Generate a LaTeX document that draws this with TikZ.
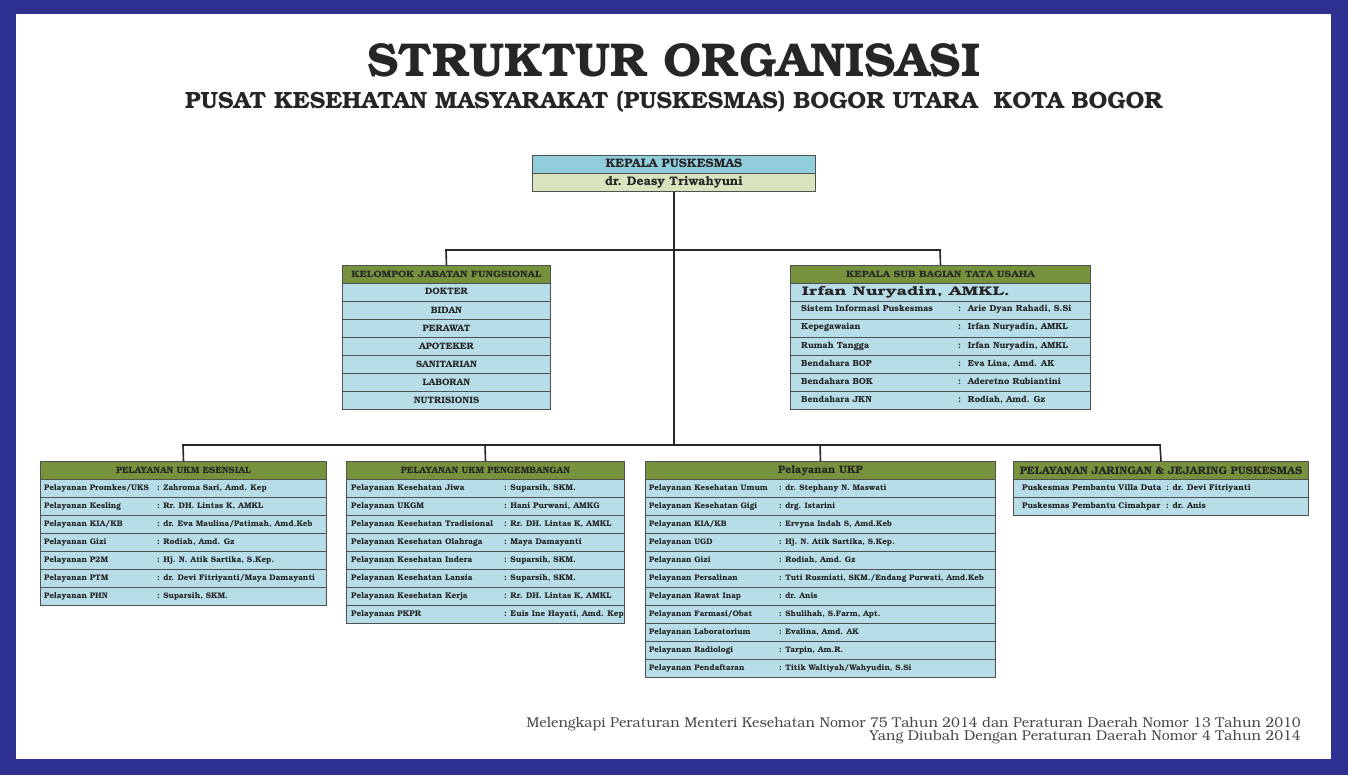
\documentclass[tikz,border=0pt]{standalone}
\usepackage[T1]{fontenc}
\renewcommand{\rmdefault}{pbk}
\usepackage{graphicx}
\definecolor{frameblue}{HTML}{2E3192}
\definecolor{hdrgreen}{HTML}{76923C}
\definecolor{rowblue}{HTML}{B7DEE8}
\definecolor{kpblue}{HTML}{92CDDC}
\definecolor{kpgreen}{HTML}{D7E4BD}
\definecolor{edgegray}{HTML}{505050}
\definecolor{txt}{HTML}{262626}
\newcommand{\rowfs}{\fontsize{8}{9}\selectfont}
\tikzset{
  rowbox/.style={draw=edgegray, line width=1pt, fill=rowblue, minimum height=18pt, inner sep=0pt, anchor=north west},
  hdrbox/.style={draw=edgegray, line width=1pt, fill=hdrgreen, minimum height=18pt, inner sep=0pt, anchor=north west, text=txt, font=\bfseries\fontsize{9.2}{10}\selectfont},
  lbl/.style={inner sep=0pt, text height=5.5pt, text depth=1.5pt, text=txt, font=\bfseries\rowfs},
  ctr/.style={inner sep=0pt, text height=6.5pt, text depth=1.5pt, text=txt, font=\bfseries\fontsize{9.3}{10}\selectfont},
  conn/.style={draw=txt, line width=1.6pt},
}
% #1 name, #2 left x, #3 top y, #4 width, #5 label x, #6 colon x, #7 label, #8 value
\newcommand{\orow}[8]{%
  \node[rowbox, minimum width=#4pt] (#1) at (#2,#3) {};
  \node[lbl, anchor=west] (#1l) at (#5,#3+9) {#7};
  \node[lbl, anchor=west] (#1v) at (#6,#3+9) {: #8};
}
\newcommand{\crow}[5]{% name, left, top, width, text
  \node[rowbox, minimum width=#4pt] (#1) at (#2,#3) {};
  \node[ctr] (#1t) at (#1.center) {#5};
}
\begin{document}
\begin{tikzpicture}[x=1pt,y=-1pt]
\fill[frameblue] (0,0) rectangle (1348,775);
\fill[white] (16,14) rectangle (1331,759);
\useasboundingbox (0,0) rectangle (1348,775);

% titles
\node[text=txt, font=\bfseries\fontsize{47.5}{50}\selectfont, inner sep=0pt] (title) at (674,60) {STRUKTUR ORGANISASI};
\node[text=txt, font=\bfseries\fontsize{23.5}{26}\selectfont, inner sep=0pt] (subtitle) at (674,102) {PUSAT KESEHATAN MASYARAKAT (PUSKESMAS) BOGOR UTARA\ \ KOTA BOGOR};

% Kepala
\node[rowbox, fill=kpblue, minimum width=283pt] (kp) at (532,155) {};
\node[ctr, font=\bfseries\fontsize{12.3}{13}\selectfont, text height=8pt] (kpt) at (kp.center) {KEPALA PUSKESMAS};
\node[rowbox, fill=kpgreen, minimum width=283pt] (kpn) at (532,173.5) {};
\node[ctr, font=\bfseries\fontsize{12.4}{13}\selectfont, text height=8pt, text depth=2pt] (kpnt) at (kpn.center) {dr. Deasy Triwahyuni};

% junction coordinates
\coordinate (j1) at (674,250);
\coordinate (j2) at (674,445);
\coordinate (jL) at (446,250);
\coordinate (jR) at (940,250);
\coordinate (b1) at (183,445);
\coordinate (b2) at (485,445);
\coordinate (b3) at (820,445);
\coordinate (b4) at (1160,445);

% Kelompok jabatan fungsional
\node[hdrbox, minimum width=208pt, font=\bfseries\fontsize{9.2}{11}\selectfont] (kjf) at (342,265) {\scalebox{1.11}[1]{KELOMPOK JABATAN FUNGSIONAL}};
\crow{f1}{342}{283}{208}{DOKTER}
\crow{f2}{342}{301}{208}{BIDAN}
\crow{f3}{342}{319}{208}{PERAWAT}
\crow{f4}{342}{337}{208}{APOTEKER}
\crow{f5}{342}{355}{208}{SANITARIAN}
\crow{f6}{342}{373}{208}{LABORAN}
\crow{f7}{342}{391}{208}{NUTRISIONIS}

% Tata usaha
\node[hdrbox, minimum width=300pt, font=\bfseries\fontsize{9.2}{11}\selectfont] (tu) at (790,265) {\scalebox{1.13}[1]{KEPALA SUB BAGIAN TATA USAHA}};
\node[rowbox, minimum width=300pt] (tun) at (790,283) {};
\node[ctr, font=\bfseries\fontsize{12.5}{13}\selectfont, text height=8.5pt, text depth=2.5pt] (tunt) at (906,292.5) {\scalebox{1.42}[1]{Irfan Nuryadin, AMKL.}};
\renewcommand{\rowfs}{\fontsize{8.8}{10}\selectfont}
\orow{t1}{790}{301}{300}{801}{958}{Sistem Informasi Puskesmas}{\ Arie Dyan Rahadi, S.Si}
\orow{t2}{790}{319}{300}{801}{958}{Kepegawaian}{\ Irfan Nuryadin, AMKL}
\orow{t3}{790}{337}{300}{801}{958}{Rumah Tangga}{\ Irfan Nuryadin, AMKL}
\orow{t4}{790}{355}{300}{801}{958}{Bendahara BOP}{\ Eva Lina, Amd. AK}
\orow{t5}{790}{373}{300}{801}{958}{Bendahara BOK}{\ Aderetno Rubiantini}
\orow{t6}{790}{391}{300}{801}{958}{Bendahara JKN}{\ Rodiah, Amd. Gz}

% UKM Esensial
\renewcommand{\rowfs}{\fontsize{8.1}{9}\selectfont}
\node[hdrbox, minimum width=286pt] (es) at (40,461) {PELAYANAN UKM ESENSIAL};
\orow{e1}{40}{479}{286}{44}{157}{Pelayanan Promkes/UKS}{Zahroma Sari, Amd. Kep}
\orow{e2}{40}{497}{286}{44}{157}{Pelayanan Kesling}{Rr. DH. Lintas K, AMKL}
\orow{e3}{40}{515}{286}{44}{157}{Pelayanan KIA/KB}{dr. Eva Maulina/Patimah, Amd.Keb}
\orow{e4}{40}{533}{286}{44}{157}{Pelayanan Gizi}{Rodiah, Amd. Gz}
\orow{e5}{40}{551}{286}{44}{157}{Pelayanan P2M}{Hj. N. Atik Sartika, S.Kep.}
\orow{e6}{40}{569}{286}{44}{157}{Pelayanan PTM}{dr. Devi Fitriyanti/Maya Damayanti}
\orow{e7}{40}{587}{286}{44}{157}{Pelayanan PHN}{Suparsih, SKM.}

% UKM Pengembangan
\renewcommand{\rowfs}{\fontsize{8.2}{9}\selectfont}
\node[hdrbox, minimum width=278pt] (pg) at (346,461) {PELAYANAN UKM PENGEMBANGAN};
\orow{p1}{346}{479}{278}{351}{504}{Pelayanan Kesehatan Jiwa}{Suparsih, SKM.}
\orow{p2}{346}{497}{278}{351}{504}{Pelayanan UKGM}{Hani Purwani, AMKG}
\orow{p3}{346}{515}{278}{351}{504}{Pelayanan Kesehatan Tradisional}{Rr. DH. Lintas K, AMKL}
\orow{p4}{346}{533}{278}{351}{504}{Pelayanan Kesehatan Olahraga}{Maya Damayanti}
\orow{p5}{346}{551}{278}{351}{504}{Pelayanan Kesehatan Indera}{Suparsih, SKM.}
\orow{p6}{346}{569}{278}{351}{504}{Pelayanan Kesehatan Lansia}{Suparsih, SKM.}
\orow{p7}{346}{587}{278}{351}{504}{Pelayanan Kesehatan Kerja}{Rr. DH. Lintas K, AMKL}
\orow{p8}{346}{605}{278}{351}{504}{Pelayanan PKPR}{Euis Ine Hayati, Amd. Kep}

% UKP
\renewcommand{\rowfs}{\fontsize{8}{9}\selectfont}
\node[hdrbox, minimum width=350pt, font=\bfseries\fontsize{10.8}{11}\selectfont] (up) at (645,461) {Pelayanan UKP};
\orow{u1}{645}{479}{350}{649}{779}{Pelayanan Kesehatan Umum}{dr. Stephany N. Maswati}
\orow{u2}{645}{497}{350}{649}{779}{Pelayanan Kesehatan Gigi}{drg. Istarini}
\orow{u3}{645}{515}{350}{649}{779}{Pelayanan KIA/KB}{Ervyna Indah S, Amd.Keb}
\orow{u4}{645}{533}{350}{649}{779}{Pelayanan UGD}{Hj. N. Atik Sartika, S.Kep.}
\orow{u5}{645}{551}{350}{649}{779}{Pelayanan Gizi}{Rodiah, Amd. Gz}
\orow{u6}{645}{569}{350}{649}{779}{Pelayanan Persalinan}{Tuti Rusmiati, SKM./Endang Purwati, Amd.Keb}
\orow{u7}{645}{587}{350}{649}{779}{Pelayanan Rawat Inap}{dr. Anis}
\orow{u8}{645}{605}{350}{649}{779}{Pelayanan Farmasi/Obat}{Shulihah, S.Farm, Apt.}
\orow{u9}{645}{623}{350}{649}{779}{Pelayanan Laboratorium}{Evalina, Amd. AK}
\orow{u10}{645}{641}{350}{649}{779}{Pelayanan Radiologi}{Tarpin, Am.R.}
\orow{u11}{645}{659}{350}{649}{779}{Pelayanan Pendaftaran}{Titik Waltiyah/Wahyudin, S.Si}

% Jaringan
\renewcommand{\rowfs}{\fontsize{8.3}{9}\selectfont}
\node[hdrbox, minimum width=295pt, font=\bfseries\fontsize{10.9}{11}\selectfont] (jr) at (1013,461) {PELAYANAN JARINGAN \& JEJARING PUSKESMAS};
\orow{r1}{1013}{479}{295}{1022}{1166}{Puskesmas Pembantu Villa Duta}{dr. Devi Fitriyanti}
\orow{r2}{1013}{497}{295}{1022}{1166}{Puskesmas Pembantu Cimahpar}{dr. Anis}

% connectors
\draw[conn] (kpn.south) -- (j1) -- (j2);
\draw[conn] (kjf.north) -- (jL) -- (jR) -- (tu.north);
\draw[conn] (es.north) -- (b1) -- (b4) -- (jr.north);
\draw[conn] (pg.north) -- (b2);
\draw[conn] (up.north) -- (b3);

% footer
\node[text=txt!85, font=\fontsize{14.2}{15}\selectfont, inner sep=0pt, anchor=base east] (ft1) at (1301,727) {Melengkapi Peraturan Menteri Kesehatan Nomor 75 Tahun 2014 dan Peraturan Daerah Nomor 13 Tahun 2010};
\node[text=txt!85, font=\fontsize{14.2}{15}\selectfont, inner sep=0pt, anchor=base east] (ft2) at (1301,740) {Yang Diubah Dengan Peraturan Daerah Nomor 4 Tahun 2014};
\end{tikzpicture}
\end{document}
